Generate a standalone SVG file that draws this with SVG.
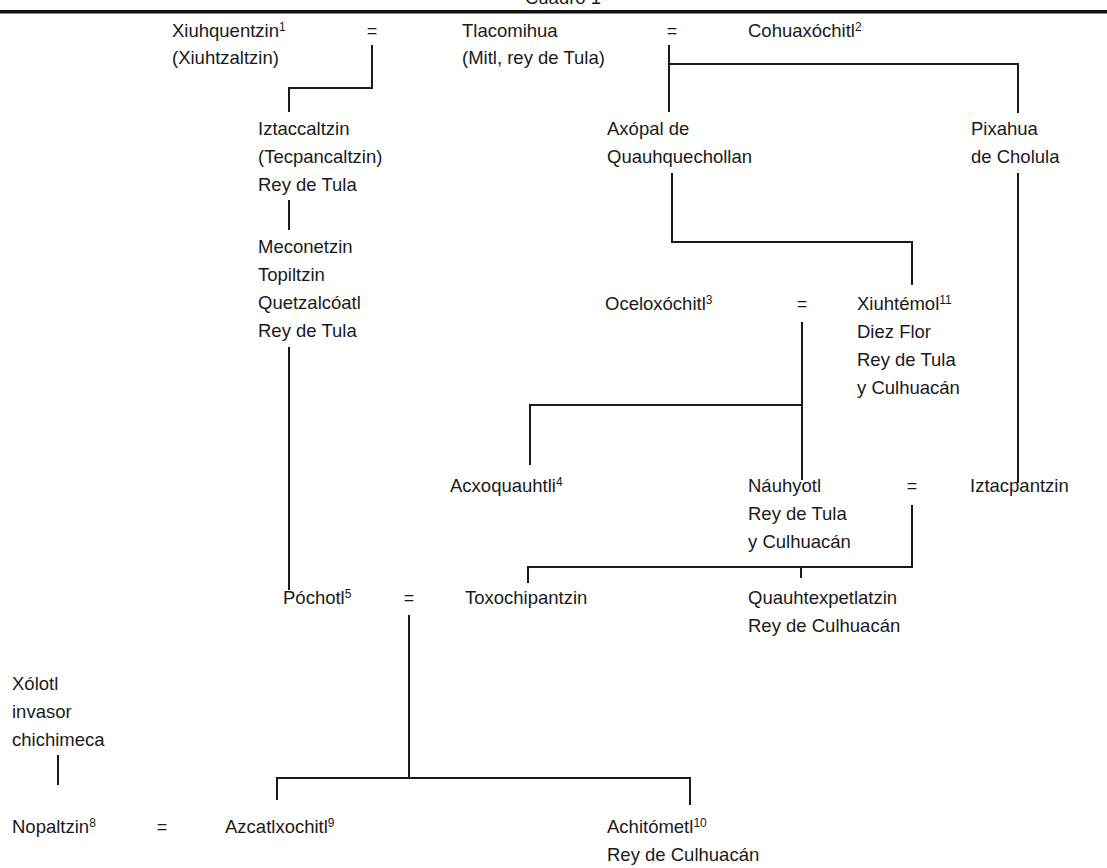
<svg xmlns="http://www.w3.org/2000/svg" width="1107" height="868" viewBox="0 0 1107 868">
<style>
text{font-family:"Liberation Sans",Arial,sans-serif;font-size:18.5px;fill:#1a1a1a}
.sup{font-size:12px}
.eq{font-size:18px}
.c path{fill:none;stroke:#1a1a1a;stroke-width:2}
</style>
<rect width="1107" height="868" fill="#fff"/>
<text x="563" y="4" text-anchor="middle">Cuadro 1</text>
<rect x="0" y="10" width="1107" height="3.5" fill="#111"/>
<g class="c" id="connectors">
<path d="M372,45V88H289V112"/>
<path d="M669,45V112M669,64H1018V113"/>
<path d="M289,200V230"/>
<path d="M672,173V242H912V285"/>
<path d="M1018,173V483"/>
<path d="M289,347V590"/>
<path d="M802,322V480M802,405H530V465"/>
<path d="M912,505V567H528V583M801,567V578"/>
<path d="M409,615V778M277,800V778H690V805"/>
<path d="M58,755V785"/>
</g>
<g id="xiuhquentzin"><text x="172" y="37">Xiuhquentzin<tspan class="sup" dy="-6">1</tspan></text><text x="172" y="64">(Xiuhtzaltzin)</text></g>
<g id="eq1"><text class="eq" x="372" y="37" text-anchor="middle">=</text></g>
<g id="tlacomihua"><text x="462" y="37">Tlacomihua</text><text x="462" y="64">(Mitl, rey de Tula)</text></g>
<g id="eq2"><text class="eq" x="672" y="37" text-anchor="middle">=</text></g>
<g id="cohuaxochitl"><text x="748" y="37">Cohuaxóchitl<tspan class="sup" dy="-6">2</tspan></text></g>
<g id="iztaccaltzin"><text x="258" y="135">Iztaccaltzin</text><text x="258" y="163">(Tecpancaltzin)</text><text x="258" y="191">Rey de Tula</text></g>
<g id="meconetzin"><text x="258" y="253">Meconetzin</text><text x="258" y="281">Topiltzin</text><text x="258" y="309">Quetzalcóatl</text><text x="258" y="337">Rey de Tula</text></g>
<g id="axopal"><text x="607" y="135">Axópal de</text><text x="607" y="163">Quauhquechollan</text></g>
<g id="pixahua"><text x="971" y="135">Pixahua</text><text x="971" y="163">de Cholula</text></g>
<g id="oceloxochitl"><text x="605" y="310">Oceloxóchitl<tspan class="sup" dy="-6">3</tspan></text></g>
<g id="eq3"><text class="eq" x="802" y="310" text-anchor="middle">=</text></g>
<g id="xiuhtemol"><text x="857" y="310">Xiuhtémol<tspan class="sup" dy="-6">11</tspan></text><text x="857" y="338">Diez Flor</text><text x="857" y="366">Rey de Tula</text><text x="857" y="394">y Culhuacán</text></g>
<g id="acxoquauhtli"><text x="450" y="492">Acxoquauhtli<tspan class="sup" dy="-6">4</tspan></text></g>
<g id="nauhyotl"><text x="748" y="492">Náuhyotl</text><text x="748" y="520">Rey de Tula</text><text x="748" y="548">y Culhuacán</text></g>
<g id="eq4"><text class="eq" x="912" y="492" text-anchor="middle">=</text></g>
<g id="iztacpantzin"><text x="970" y="492">Iztacpantzin</text></g>
<g id="pochotl"><text x="283" y="604">Póchotl<tspan class="sup" dy="-6">5</tspan></text></g>
<g id="eq5"><text class="eq" x="409" y="604" text-anchor="middle">=</text></g>
<g id="toxochipantzin"><text x="465" y="604">Toxochipantzin</text></g>
<g id="quauhtexpetlatzin"><text x="748" y="604">Quauhtexpetlatzin</text><text x="748" y="632">Rey de Culhuacán</text></g>
<g id="xolotl"><text x="12" y="690">Xólotl</text><text x="12" y="718">invasor</text><text x="12" y="746">chichimeca</text></g>
<g id="nopaltzin"><text x="12" y="833">Nopaltzin<tspan class="sup" dy="-6">8</tspan></text></g>
<g id="eq6"><text class="eq" x="162" y="833" text-anchor="middle">=</text></g>
<g id="azcatlxochitl"><text x="225" y="833">Azcatlxochitl<tspan class="sup" dy="-6">9</tspan></text></g>
<g id="achitometl"><text x="607" y="833">Achitómetl<tspan class="sup" dy="-6">10</tspan></text><text x="607" y="861">Rey de Culhuacán</text></g>
</svg>
